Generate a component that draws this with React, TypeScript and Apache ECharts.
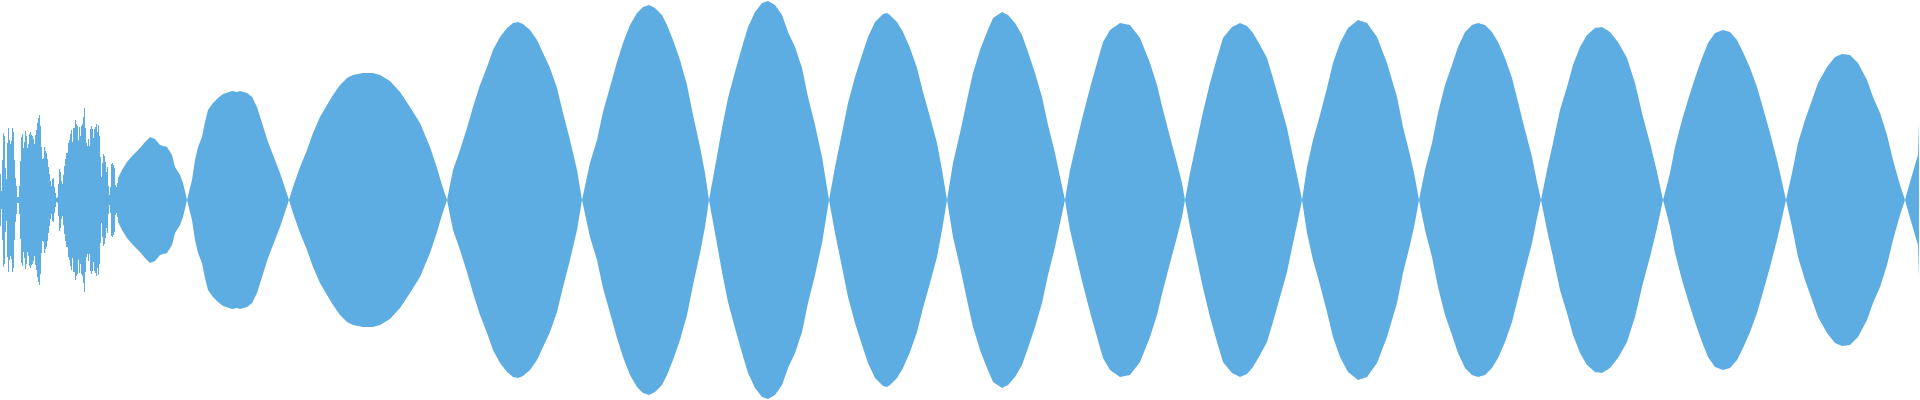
import React, { useEffect, useRef } from "react";
import * as echarts from "echarts";

// Noisy opening section: one amplitude per pixel column, starting at x = 0
const noisyAmp: number[] = [
  26, 9, 40, 67, 64, 32, 21, 57, 72, 60, 56, 59, 72, 68, 40, 22, 14, 3, 3, 14,
  39, 63, 66, 52, 58, 69, 64, 52, 56, 66, 68, 65, 64, 61, 56, 65, 70, 77, 82, 85,
  74, 53, 41, 42, 53, 49, 47, 41, 33, 26, 19, 14, 21, 22, 13, 7, 2, 3, 16, 31,
  28, 19, 16, 25, 34, 41, 47, 47, 57, 60, 66, 70, 58, 72, 72, 80, 76, 74, 60, 73,
  64, 74, 76, 83, 92, 72, 57, 54, 61, 54, 71, 74, 71, 62, 71, 73, 76, 68, 75, 64,
  43, 23, 37, 46, 44, 38, 28, 33, 14, 5, 13, 36, 37, 35, 32, 15, 13, 17,
];

// Smooth lobes: positions (px along the wave) and amplitudes
const lobeX: number[] = [
  118, 122, 127, 133, 140, 145, 150, 155, 160, 167, 172, 175, 180, 183, 187,
  192, 195, 198, 202, 205, 208, 213, 218, 223, 232, 237, 240, 247, 252, 257, 262, 268, 275, 280, 285, 289,
  293, 300, 307, 313, 320, 327, 333, 340, 347, 353, 363, 373, 380, 390, 400, 410, 420, 430, 437, 442, 447,
  453, 460, 467, 473, 480, 487, 493, 500, 507, 513, 518, 523, 530, 537, 543, 550, 557, 563, 570, 577, 582,
  590, 597, 603, 610, 617, 623, 630, 637, 643, 649, 655, 662, 667, 673, 680, 687, 693, 700, 705, 709,
  715, 722, 728, 735, 742, 748, 755, 762, 768, 775, 782, 788, 795, 802, 808, 815, 822, 829,
  835, 842, 848, 855, 862, 868, 875, 883, 887, 890, 897, 903, 910, 917, 923, 930, 937, 942, 947,
  953, 960, 967, 973, 980, 987, 993, 1002, 1008, 1015, 1022, 1028, 1035, 1042, 1048, 1055, 1060, 1065,
  1070, 1077, 1083, 1090, 1097, 1103, 1110, 1120, 1130, 1140, 1150, 1157, 1163, 1170, 1177, 1182, 1185,
  1190, 1197, 1203, 1210, 1217, 1223, 1232, 1240, 1247, 1253, 1260, 1267, 1273, 1280, 1287, 1293, 1298, 1302,
  1307, 1313, 1320, 1327, 1333, 1340, 1348, 1358, 1367, 1377, 1387, 1397, 1403, 1410, 1415, 1419,
  1425, 1432, 1438, 1445, 1452, 1458, 1465, 1472, 1478, 1485, 1492, 1498, 1505, 1512, 1518, 1525, 1532, 1537, 1541,
  1547, 1553, 1560, 1567, 1573, 1580, 1587, 1595, 1602, 1610, 1618, 1627, 1635, 1643, 1650, 1657, 1663,
  1667, 1670, 1675, 1682, 1688, 1695, 1702, 1708, 1715, 1723, 1730, 1737, 1743, 1750, 1757, 1763, 1770, 1777, 1782, 1786,
  1792, 1798, 1805, 1812, 1818, 1827, 1835, 1842, 1850, 1858, 1867, 1873, 1880, 1887, 1893, 1900, 1905,
  1910, 1915, 1918, 1919,
];
const lobeAmp: number[] = [
  22, 30, 38, 45, 52, 58, 63, 61, 55, 53, 45, 33, 25, 17, 0,
  20, 40, 53, 63, 78, 90, 97, 102, 106, 109, 108, 109, 107, 103, 93, 77, 58, 40, 27, 12, 0,
  13, 33, 50, 67, 83, 95, 105, 115, 122, 125, 127, 127, 125, 119, 108, 93, 77, 53, 32, 15, 0,
  30, 50, 72, 93, 115, 133, 150, 163, 172, 177, 178, 176, 170, 160, 147, 132, 112, 87, 60, 30, 0,
  37, 60, 88, 113, 138, 157, 175, 187, 193, 195, 192, 185, 175, 160, 140, 115, 85, 53, 27, 0,
  33, 72, 102, 128, 153, 173, 188, 197, 199, 195, 185, 168, 153, 132, 103, 75, 43, 0,
  33, 67, 97, 123, 145, 163, 178, 186, 187, 185, 178, 168, 152, 132, 108, 83, 57, 30, 0,
  37, 67, 100, 127, 150, 168, 182, 188, 185, 177, 165, 148, 127, 103, 75, 47, 23, 0,
  30, 60, 85, 112, 137, 158, 170, 177, 175, 162, 137, 115, 90, 63, 37, 17, 0,
  27, 60, 88, 117, 142, 162, 173, 177, 174, 167, 155, 142, 122, 97, 72, 43, 20, 0,
  33, 60, 85, 112, 137, 157, 172, 180, 177, 163, 137, 103, 73, 45, 22, 0,
  30, 57, 87, 115, 135, 153, 168, 175, 177, 175, 168, 158, 142, 122, 98, 70, 43, 18, 0,
  30, 57, 90, 113, 135, 153, 165, 172, 173, 168, 158, 142, 117, 83, 57, 28, 0,
  15, 27, 53, 80, 100, 122, 142, 157, 167, 170, 168, 160, 148, 132, 113, 92, 67, 40, 18, 0,
  27, 57, 80, 100, 117, 133, 143, 146, 145, 137, 120, 103, 87, 65, 40, 15, 0,
  18, 35, 45, 77,
];

const COLOR = "#5DADE2";

export default function App() {
  const ref = useRef<HTMLDivElement>(null);
  useEffect(() => {
    if (!ref.current) return;
    const chart = echarts.init(ref.current, null, { renderer: "svg" });
    const noisyTop: [number, number][] = [
      ...noisyAmp.map((v, i) => [i, v] as [number, number]),
      [lobeX[0], lobeAmp[0]],
    ];
    const lobeTop: [number, number][] = lobeX.map((x, i) => [x, lobeAmp[i]] as [number, number]);
    const mirror = (d: [number, number][]) => d.map(([x, v]) => [x, -v] as [number, number]);
    const base = {
      type: "line" as const,
      symbol: "none",
      showSymbol: false,
      lineStyle: { width: 0, opacity: 0 },
      areaStyle: { color: COLOR, opacity: 1 },
      silent: true,
    };
    chart.setOption({
      animation: false,
      backgroundColor: "#ffffff",
      grid: { left: 0, right: 0, top: 0, bottom: 0, containLabel: false },
      xAxis: { type: "value", min: 0, max: 1920, show: false, splitLine: { show: false } },
      yAxis: { type: "value", min: -200, max: 200, show: false, splitLine: { show: false } },
      series: [
        { ...base, name: "noisyUpper", step: "end", data: noisyTop },
        { ...base, name: "noisyLower", step: "end", data: mirror(noisyTop) },
        { ...base, name: "upper", data: lobeTop },
        { ...base, name: "lower", data: mirror(lobeTop) },
      ],
    });
    return () => chart.dispose();
  }, []);
  return (
    <div
      ref={ref}
      style={{ position: "fixed", left: 0, top: 0, width: 1920, height: 400, background: "#fff" }}
    />
  );
}
